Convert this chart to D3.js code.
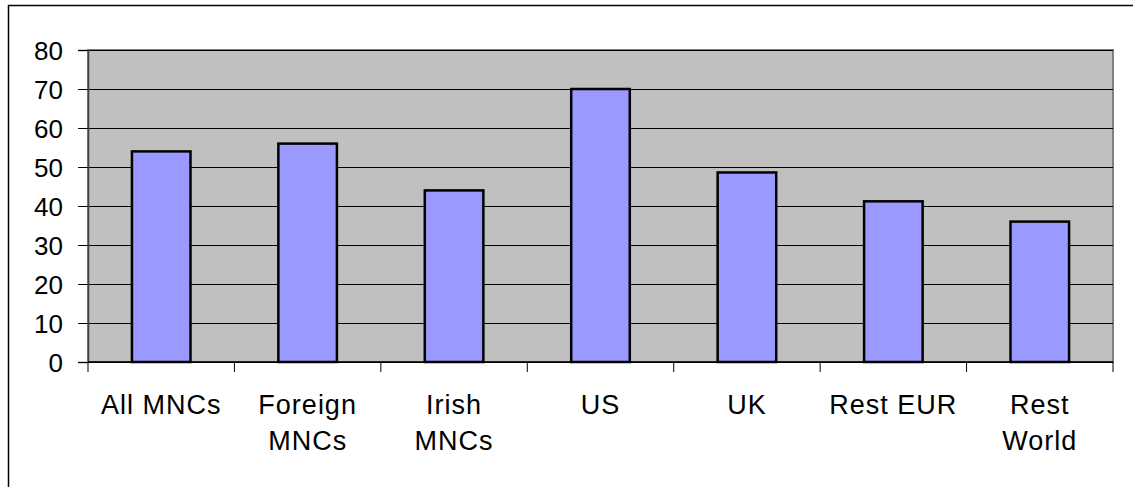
<!DOCTYPE html>
<html>
<head>
<meta charset="utf-8">
<script src="https://cdn.jsdelivr.net/npm/d3@7"></script>
<style>
  html, body { margin: 0; padding: 0; background: #fff; overflow: hidden; }
  svg { display: block; font-family: "Liberation Sans", Arial, sans-serif; }
</style>
</head>
<body>
<div id="chart"></div>
<script>
const categories = ['All MNCs', 'Foreign MNCs', 'Irish MNCs', 'US', 'UK', 'Rest EUR', 'Rest World'];
const tickLabels = [['All MNCs'], ['Foreign', 'MNCs'], ['Irish', 'MNCs'], ['US'], ['UK'], ['Rest EUR'], ['Rest', 'World']];
const values = [54, 56, 44, 70, 48.6, 41.2, 36];
const yTicks = [0, 10, 20, 30, 40, 50, 60, 70, 80];

const style = {
  plot: { fill: '#c0c0c0', border: '#808080' },
  bar: { fill: '#9999ff', stroke: '#000', width: 2.5 },
  grid: { color: '#000', width: 1 },
  labels: { size: 26, color: '#000' },
};

const W = 1133;
const H = 487;
const margin = { top: 50, right: 20, bottom: 125, left: 88 };
const width = W - margin.left - margin.right;
const height = H - margin.top - margin.bottom;

const svg = d3.select('#chart').append('svg')
  .attr('width', W)
  .attr('height', H);

// outer chart border (runs past the right and bottom edges)
svg.append('rect')
  .attr('x', 8.5)
  .attr('y', 5.5)
  .attr('width', W + 20)
  .attr('height', H + 20)
  .attr('fill', 'none')
  .attr('stroke', '#000')
  .attr('stroke-width', 1.5);

const g = svg.append('g')
  .attr('transform', `translate(${margin.left}, ${margin.top})`);

const x = d3.scaleBand()
  .domain(categories)
  .range([0, width])
  .paddingInner(0.6)
  .paddingOuter(0.3);

const xCat = d3.scaleBand()
  .domain(categories)
  .range([0, width])
  .padding(0);

const y = d3.scaleLinear()
  .domain([0, 80])
  .range([height, 0]);

g.append('rect')
  .attr('width', width)
  .attr('height', height)
  .attr('fill', style.plot.fill)
  .attr('stroke', style.plot.border)
  .attr('stroke-width', 2);

// gridlines
const grid = g.append('g')
  .call(d3.axisLeft(y).tickValues(yTicks).tickSize(-width).tickFormat(''));
grid.select('.domain').remove();
grid.selectAll('line')
  .attr('stroke', style.grid.color)
  .attr('stroke-width', style.grid.width);

// y axis with ticks and labels
const yAxis = g.append('g')
  .call(d3.axisLeft(y).tickValues(yTicks).tickSize(10).tickPadding(15));
yAxis.select('.domain').attr('stroke', '#404040').attr('stroke-width', 1.5);
yAxis.selectAll('line').attr('stroke', '#000');
yAxis.selectAll('text')
  .attr('font-size', style.labels.size)
  .attr('fill', style.labels.color)
  .attr('dy', '0.36em');

// bars
g.selectAll('.bar')
  .data(categories)
  .enter().append('rect')
  .attr('class', 'bar')
  .attr('x', (d) => x(d))
  .attr('y', (d, i) => y(values[i]))
  .attr('width', x.bandwidth())
  .attr('height', (d, i) => height - y(values[i]))
  .attr('fill', style.bar.fill)
  .attr('stroke', style.bar.stroke)
  .attr('stroke-width', style.bar.width);

// x axis
const xAxis = g.append('g')
  .attr('transform', `translate(0, ${height})`);
xAxis.append('line')
  .attr('x1', 0)
  .attr('x2', width)
  .attr('stroke', '#000')
  .attr('stroke-width', 1.5);
xAxis.selectAll('.xtick')
  .data(categories.concat(['end']))
  .enter().append('line')
  .attr('class', 'xtick')
  .attr('x1', (d) => (d === 'end' ? width : xCat(d)))
  .attr('x2', (d) => (d === 'end' ? width : xCat(d)))
  .attr('y1', 0)
  .attr('y2', 10)
  .attr('stroke', '#000');

const labels = xAxis.selectAll('.xlabel')
  .data(categories)
  .enter().append('text')
  .attr('class', 'xlabel')
  .attr('text-anchor', 'middle')
  .attr('font-size', 27)
  .attr('letter-spacing', 1)
  .attr('fill', style.labels.color);

labels.each(function (d, i) {
  const cx = xCat(d) + xCat.bandwidth() / 2;
  d3.select(this).selectAll('tspan')
    .data(tickLabels[i])
    .enter().append('tspan')
    .attr('x', cx)
    .attr('y', (t, j) => 52 + j * 36)
    .text((t) => t);
});
</script>
</body>
</html>
